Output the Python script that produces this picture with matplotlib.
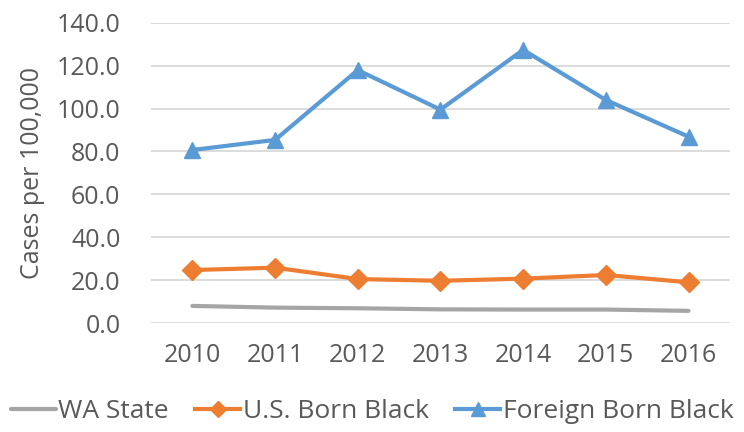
import matplotlib
matplotlib.use("Agg")
import matplotlib.pyplot as plt

years = ["2010", "2011", "2012", "2013", "2014", "2015", "2016"]
wa_state = [8.1, 7.3, 7.0, 6.5, 6.4, 6.4, 5.8]
us_born_black = [24.8, 25.9, 20.6, 19.8, 20.8, 22.5, 19.1]
foreign_born_black = [80.7, 85.4, 117.9, 99.5, 127.3, 104.0, 86.9]
yticks = [0, 20, 40, 60, 80, 100, 120, 140]

plt.rcParams['font.family'] = ['Open Sans', 'DejaVu Sans']
txt = '#595959'
fs = 18

fig = plt.figure(figsize=(7.44, 4.32), dpi=100)
ax = fig.add_axes([0.203, 0.2516, 0.778, 0.696])
x = list(range(len(years)))
ax.plot(x, wa_state, color='#A5A5A5', lw=3, solid_capstyle='round', label='WA State')
ax.plot(x, us_born_black, color='#ED7D31', lw=3, marker='D', ms=10, label='U.S. Born Black')
ax.plot(x, foreign_born_black, color='#5B9BD5', lw=3, marker='^', ms=12, label='Foreign Born Black')

ax.set_xlim(-0.5, len(years) - 0.5)
ax.set_ylim(0, 140)
ax.set_yticks(yticks)
ax.set_yticklabels([f"{v:.1f}" for v in yticks])
ax.set_xticks(x)
ax.set_xticklabels(years)
ax.yaxis.grid(True, color='#D9D9D9', lw=1.3)
ax.set_axisbelow(True)
for s in ax.spines.values():
    s.set_visible(False)
ax.tick_params(length=0, labelsize=fs, colors=txt)
ax.tick_params(axis='x', pad=14)
ax.tick_params(axis='y', pad=22)
ax.set_ylabel('Cases per 100,000', fontsize=fs, color=txt, labelpad=8)

fig.legend(loc='center', bbox_to_anchor=(0.5, 0.048), ncol=3, frameon=False,
           fontsize=19, labelcolor=txt, handlelength=1.7, handletextpad=0.1,
           columnspacing=1.0, markerscale=0.8)
fig.savefig('out.png', dpi=100)
